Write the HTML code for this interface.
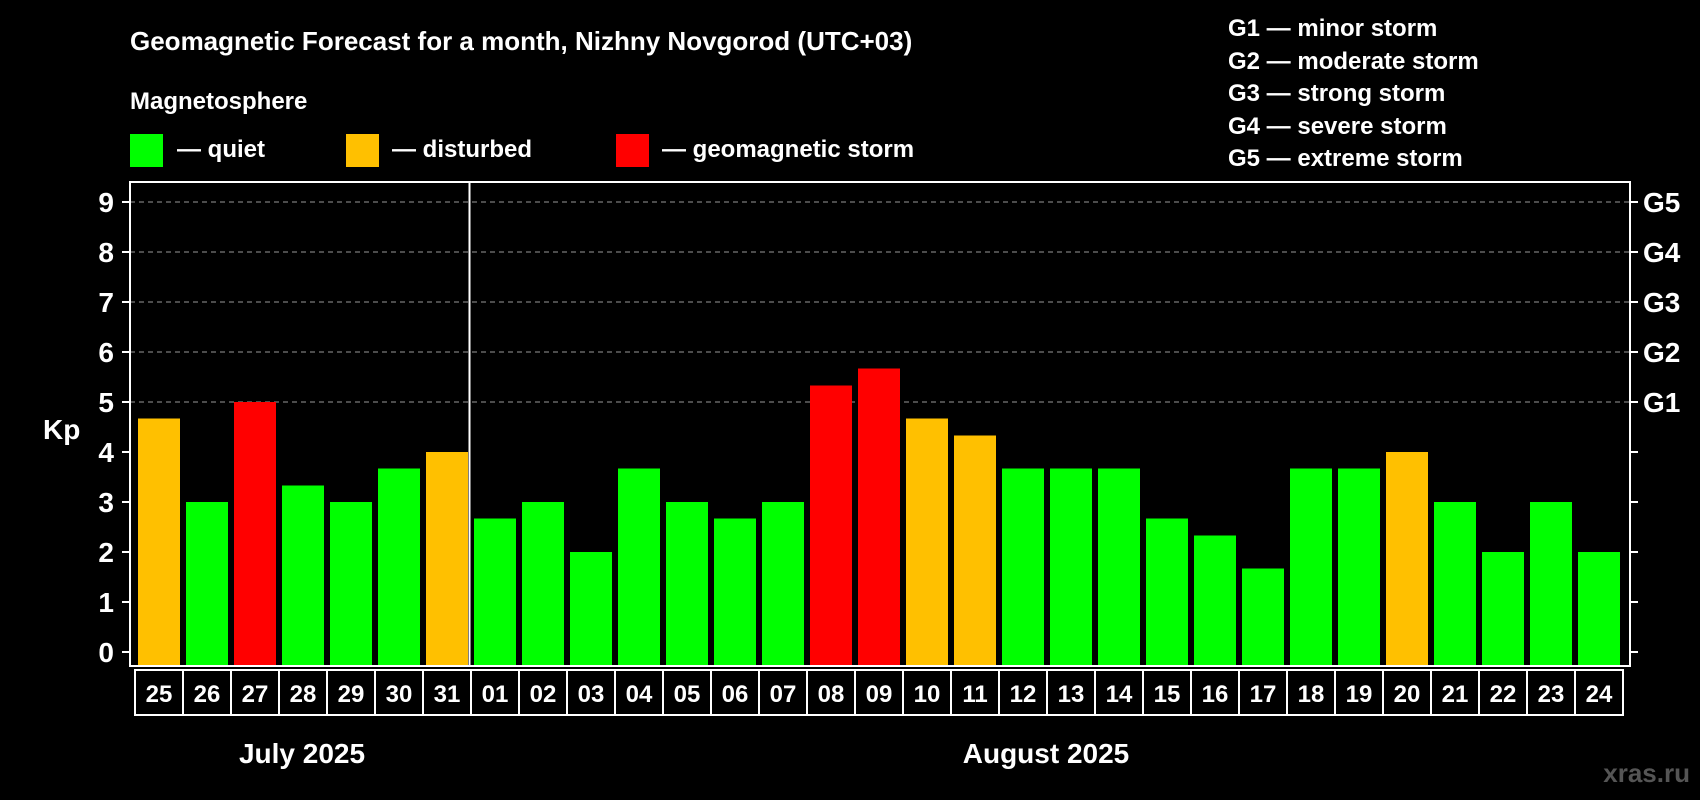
<!DOCTYPE html>
<html><head><meta charset="utf-8"><style>
html,body{margin:0;padding:0;background:#000;}
svg{display:block;font-family:"Liberation Sans",sans-serif;font-weight:bold;}
</style></head><body>
<svg id="chart" width="1700" height="800" viewBox="0 0 1700 800">
<rect width="1700" height="800" fill="#000"/>
<text x="130" y="50" fill="#fff" font-size="26">Geomagnetic Forecast for a month, Nizhny Novgorod (UTC+03)</text>
<text x="130" y="109" fill="#fff" font-size="24">Magnetosphere</text>
<g><rect x="130" y="134" width="33" height="33" fill="#00ff00"/><text x="177" y="157" fill="#fff" font-size="24">— quiet</text></g>
<g><rect x="346" y="134" width="33" height="33" fill="#ffc000"/><text x="392" y="157" fill="#fff" font-size="24">— disturbed</text></g>
<g><rect x="616" y="134" width="33" height="33" fill="#ff0000"/><text x="662" y="157" fill="#fff" font-size="24">— geomagnetic storm</text></g>
<g fill="#fff" font-size="24">
<text x="1228" y="36">G1 — minor storm</text>
<text x="1228" y="69">G2 — moderate storm</text>
<text x="1228" y="101">G3 — strong storm</text>
<text x="1228" y="134">G4 — severe storm</text>
<text x="1228" y="166">G5 — extreme storm</text>
</g>
<text x="43" y="439" fill="#fff" font-size="28">Kp</text>
<text x="1046" y="763" fill="#fff" font-size="28" text-anchor="middle">August 2025</text>
<text x="302" y="763" fill="#fff" font-size="28" text-anchor="middle">July 2025</text>
<text x="1690" y="782" fill="#555" font-size="26" text-anchor="end">xras.ru</text>
<g id="plot"></g>
</svg>
<script>
const days = ["25","26","27","28","29","30","31","01","02","03","04","05","06","07","08","09","10","11","12","13","14","15","16","17","18","19","20","21","22","23","24"];
const kpValues = [4.67,3,5,3.33,3,3.67,4,2.67,3,2,3.67,3,2.67,3,5.33,5.67,4.67,4.33,3.67,3.67,3.67,2.67,2.33,1.67,3.67,3.67,4,3,2,3,2];
const yTicks = [0,1,2,3,4,5,6,7,8,9];
const gLabels = ["G1","G2","G3","G4","G5"];
const monthSplitIndex = 7;

const NS="http://www.w3.org/2000/svg";
const plot=document.getElementById('plot');
const L=130,R=1630,T=182,B=666,Y0=652,Y9=202;
const slotW=48,slot0=135;
function y(v){return Y0-(v)*(Y0-Y9)/9;}
function x(i){return slot0+i*slotW;}
function mk(tag,attrs){const e=document.createElementNS(NS,tag);for(const k in attrs)e.setAttribute(k,attrs[k]);plot.appendChild(e);return e;}
function color(v){return v>=5?"#ff0000":(v>=4?"#ffc000":"#00ff00");}

yTicks.forEach(t=>{
  if(t>=5){const g=mk('line',{x1:L,x2:R,y1:y(t),y2:y(t),stroke:"#999","stroke-width":1,"stroke-dasharray":"5,4"});
  
  }
  const tk=mk('line',{x1:L-8,x2:L,y1:y(t),y2:y(t),stroke:"#fff","stroke-width":2});
  
  
  const tr=mk('line',{x1:R,x2:R+8,y1:y(t),y2:y(t),stroke:"#fff","stroke-width":2});
  
  
  const lb=mk('text',{x:114,y:y(t)+10,fill:"#fff","font-size":28,"text-anchor":"end"});
  lb.textContent=t;
  
  
});
gLabels.forEach((g,i)=>{
  const lb=mk('text',{x:1643,y:y(5+i)+10,fill:"#fff","font-size":28});
  lb.textContent=g;
  
  
});
kpValues.forEach((v,i)=>{
  const r=mk('rect',{x:x(i)+3,y:y(v),width:42,height:B-y(v),fill:color(v)});
  
  
  const c=mk('rect',{x:x(i),y:670,width:slotW,height:45,fill:"none",stroke:"#fff","stroke-width":2});
  
  
  const t=mk('text',{x:x(i)+slotW/2,y:702,fill:"#fff","font-size":24,"text-anchor":"middle"});
  t.textContent=days[i];
  
  
});
const fr=mk('rect',{x:L,y:T,width:R-L,height:B-T,fill:"none",stroke:"#fff","stroke-width":2});


const dx=x(monthSplitIndex)-1.5;
const dv=mk('line',{x1:dx,x2:dx,y1:T,y2:B,stroke:"#fff","stroke-width":2});


</script>
</body></html>
